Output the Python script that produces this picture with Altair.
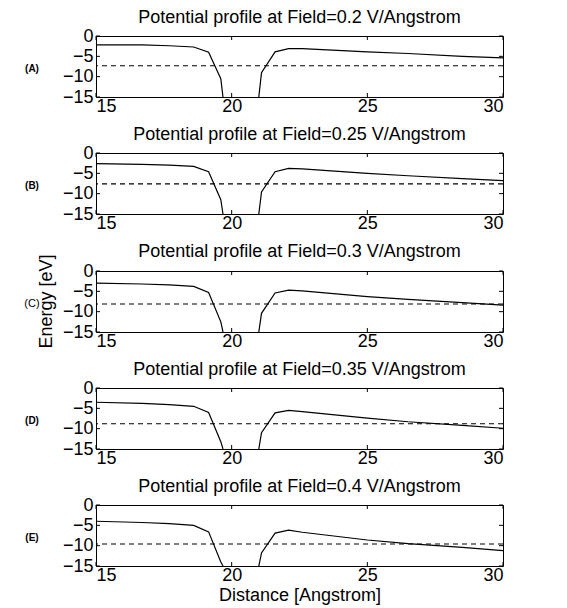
import altair as alt
import pandas as pd

FONT = "Liberation Sans"

fields = ["0.2", "0.25", "0.3", "0.35", "0.4"]
letters = ["(A)", "(B)", "(C)", "(D)", "(E)"]

# left side of the barrier region
x_left = [15, 16.7, 17.7, 18.6, 19.15, 19.6, 19.68]
y_left = {
    "0.2":  [-2.2, -2.2, -2.4, -2.7, -4.0, -10.5, -15],
    "0.25": [-2.6, -2.8, -3.0, -3.3, -4.6, -11.5, -15],
    "0.3":  [-3.0, -3.2, -3.4, -3.8, -5.3, -12.5, -15],
    "0.35": [-3.5, -3.8, -4.1, -4.5, -6.0, -13.2, -15],
    "0.4":  [-4.0, -4.3, -4.6, -5.0, -6.6, -14.0, -15],
}
# right side
x_right = [21.0, 21.1, 21.6, 22.1, 22.6, 25, 26.5, 28.5, 30]
y_right = {
    "0.2":  [-15, -9.0, -3.9, -3.1, -3.1, -3.9, -4.3, -5.0, -5.4],
    "0.25": [-15, -9.6, -4.6, -3.8, -3.9, -5.0, -5.6, -6.3, -6.8],
    "0.3":  [-15, -10.4, -5.4, -4.7, -4.9, -6.3, -7.0, -7.8, -8.4],
    "0.35": [-15, -11.0, -6.1, -5.5, -5.8, -7.4, -8.3, -9.2, -9.9],
    "0.4":  [-15, -11.8, -6.9, -6.2, -6.7, -8.6, -9.5, -10.4, -11.2],
}
# dashed reference level
dashed = {"0.2": -7.3, "0.25": -7.6, "0.3": -8.1, "0.35": -8.8, "0.4": -9.6}

x_ticks = [15, 20, 25, 30]
y_ticks = [0, -5, -10, -15]

W, H = 407, 61

xscale = alt.Scale(domain=[15, 30], nice=False, zero=False)
yscale = alt.Scale(domain=[-15, 0], nice=False, zero=False)


def panel(i, f):
    rows = []
    for xv, yv in zip(x_left, y_left[f]):
        rows.append({"x": xv, "y": yv, "seg": "L"})
    for xv, yv in zip(x_right, y_right[f]):
        rows.append({"x": xv, "y": yv, "seg": "R"})
    df = pd.DataFrame(rows)
    last = i == len(fields) - 1
    xaxis = alt.Axis(
        values=x_ticks, ticks=False, domain=False, grid=False,
        labelFontSize=18, labelFont=FONT, labelPadding=0, labelColor="black",
        title="Distance [Angstrom]" if last else None,
        titleFontSize=18, titleFont=FONT, titleFontWeight="normal",
        titlePadding=2, titleColor="black",
    )
    yaxis = alt.Axis(
        values=y_ticks, ticks=False, domain=False, grid=False,
        labelFontSize=18, labelFont=FONT, labelPadding=3, labelColor="black",
        title=None, labelBaseline="middle",
    )
    X = lambda: alt.X("x:Q", scale=xscale, axis=xaxis)
    Y = lambda: alt.Y("y:Q", scale=yscale, axis=yaxis)
    line = alt.Chart(df).mark_line(color="black", strokeWidth=1.2, clip=True).encode(
        x=X(), y=Y(), detail="seg:N",
    )
    dash = alt.Chart(pd.DataFrame({"y": [dashed[f]]})).mark_rule(
        color="black", strokeWidth=1.1, strokeDash=[5, 4]
    ).encode(y=Y())
    xt = pd.DataFrame({"x": x_ticks})
    yt = pd.DataFrame({"y": y_ticks})
    top_t = alt.Chart(xt).mark_rule(color="black").encode(
        x=X(), y=alt.value(0), y2=alt.value(4))
    bot_t = alt.Chart(xt).mark_rule(color="black").encode(
        x=X(), y=alt.value(H - 4), y2=alt.value(H))
    left_t = alt.Chart(yt).mark_rule(color="black").encode(
        y=Y(), x=alt.value(0), x2=alt.value(4))
    right_t = alt.Chart(yt).mark_rule(color="black").encode(
        y=Y(), x=alt.value(W - 4), x2=alt.value(W))
    is_c = letters[i] == "(C)"
    lab = alt.Chart(pd.DataFrame({"t": [letters[i]]})).mark_text(
        font=FONT, fontSize=11 if is_c else 10,
        fontWeight="normal" if is_c else "bold", color="black"
    ).encode(text="t:N", x=alt.value(-64), y=alt.value(H / 2 + 2))
    layers = [line, dash, top_t, bot_t, left_t, right_t, lab]
    title_offset = 0
    if is_c:
        ey = alt.Chart(pd.DataFrame({"t": ["Energy [eV]"]})).mark_text(
            font=FONT, fontSize=18, angle=270, color="black"
        ).encode(text="t:N", x=alt.value(-49), y=alt.value(H / 2))
        layers.append(ey)
        title_offset = -7
    return alt.layer(*layers).properties(
        width=W, height=H,
        title=alt.TitleParams(
            f"Potential profile at Field={f} V/Angstrom",
            font=FONT, fontSize=18, fontWeight="normal", color="black",
            offset=title_offset, anchor="middle", frame="group",
        ),
    )


chart = alt.vconcat(*[panel(i, f) for i, f in enumerate(fields)], spacing=9).configure(
    background="white",
    padding={"left": 15, "top": 0, "right": 5, "bottom": 0},
).configure_view(stroke="black", strokeWidth=1)

chart.save("out.html", embed_options={"renderer": "svg", "actions": False})
